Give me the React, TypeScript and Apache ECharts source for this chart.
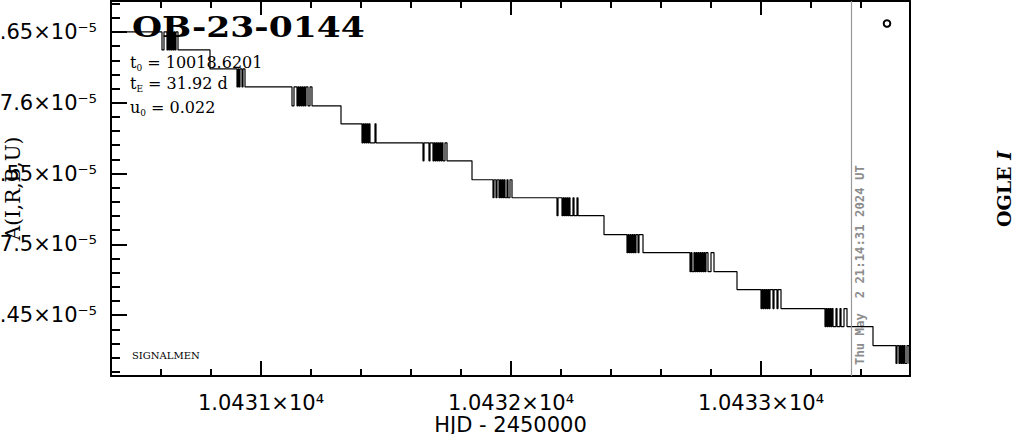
import React, { useEffect, useRef } from "react";
import * as echarts from "echarts";

// Quantised model levels A, top to bottom
const levels = [
  1.65e-5, 1.63731e-5, 1.62391e-5, 1.61121e-5, 1.59781e-5, 1.58512e-5,
  1.57172e-5, 1.55903e-5, 1.54563e-5, 1.53293e-5, 1.52024e-5, 1.50684e-5,
  1.49415e-5, 1.48075e-5, 1.46805e-5, 1.45465e-5, 1.44196e-5, 1.42856e-5,
  1.41587e-5,
];

// Switching times (HJD-2450000) between level i and level i+1
const transitions: number[][] = [
  [10430.604, 10430.612, 10430.624, 10430.628, 10430.632, 10430.636, 10430.64, 10430.644, 10430.648, 10430.652, 10430.656, 10430.66, 10430.668],
  [10430.796],
  [10430.904, 10430.908, 10430.912, 10430.916, 10430.924, 10430.928, 10430.936],
  [10431.124, 10431.132, 10431.144, 10431.148, 10431.152, 10431.156, 10431.16, 10431.164, 10431.168, 10431.172, 10431.176, 10431.18, 10431.188, 10431.196, 10431.204],
  [10431.32],
  [10431.404, 10431.408, 10431.412, 10431.416, 10431.42, 10431.424, 10431.428, 10431.432, 10431.436, 10431.456, 10431.46],
  [10431.648, 10431.652, 10431.672, 10431.676, 10431.688, 10431.692, 10431.696, 10431.7, 10431.704, 10431.708, 10431.712, 10431.716, 10431.72, 10431.724, 10431.728, 10431.736, 10431.744],
  [10431.844],
  [10431.928, 10431.932, 10431.94, 10431.944, 10431.952, 10431.956, 10431.96, 10431.964, 10431.968, 10431.972, 10431.976, 10431.984, 10431.988, 10431.996, 10432.004],
  [10432.184, 10432.188, 10432.204, 10432.208, 10432.212, 10432.216, 10432.22, 10432.224, 10432.228, 10432.232, 10432.236, 10432.248, 10432.252, 10432.264, 10432.268],
  [10432.372],
  [10432.464, 10432.468, 10432.472, 10432.476, 10432.48, 10432.484, 10432.488, 10432.492, 10432.496, 10432.5, 10432.508, 10432.512, 10432.528],
  [10432.716, 10432.72, 10432.724, 10432.732, 10432.736, 10432.74, 10432.744, 10432.748, 10432.752, 10432.756, 10432.76, 10432.764, 10432.768, 10432.772, 10432.776, 10432.78, 10432.788, 10432.8, 10432.812],
  [10432.904],
  [10433.0, 10433.004, 10433.008, 10433.012, 10433.016, 10433.02, 10433.024, 10433.028, 10433.032, 10433.036, 10433.048, 10433.052, 10433.064, 10433.068, 10433.08],
  [10433.256, 10433.26, 10433.264, 10433.268, 10433.272, 10433.276, 10433.28, 10433.284, 10433.288, 10433.3, 10433.304, 10433.316, 10433.32, 10433.332, 10433.344],
  [10433.448],
  [10433.54, 10433.544, 10433.552, 10433.556, 10433.56, 10433.564, 10433.568, 10433.572, 10433.576, 10433.584, 10433.592],
];

const xRange = [10430.4, 10433.596];
const yRange = [1.40705e-5, 1.67186e-5];
const nowT = 10433.36;

const xMajorTicks = [10431, 10432, 10433];
const xMajorLabels = ["1.0431×10⁴", "1.0432×10⁴", "1.0433×10⁴"];
const xMinorTicks = [
  10430.6, 10430.8, 10431.2, 10431.4, 10431.6, 10431.8, 10432.2, 10432.4,
  10432.6, 10432.8, 10433.2, 10433.4,
];
const yMajorTicks = [1.45e-5, 1.5e-5, 1.55e-5, 1.6e-5, 1.65e-5];
const yMajorLabels = ["1.45×10⁻⁵", "7.5×10⁻⁵", "1.55×10⁻⁵", "7.6×10⁻⁵", "1.65×10⁻⁵"];
const yMinorTicks = [
  1.41e-5, 1.42e-5, 1.43e-5, 1.44e-5, 1.46e-5, 1.47e-5, 1.48e-5, 1.49e-5,
  1.51e-5, 1.52e-5, 1.53e-5, 1.54e-5, 1.56e-5, 1.57e-5, 1.58e-5, 1.59e-5,
  1.61e-5, 1.62e-5, 1.63e-5, 1.64e-5, 1.66e-5, 1.67e-5,
];

const title = "OB-23-0144";
const params = [
  { sym: "t", sub: "0", rest: " = 10018.6201" },
  { sym: "t", sub: "E", rest: " = 31.92 d" },
  { sym: "u", sub: "0", rest: " = 0.022" },
];
const dateText = "Thu May  2 21:14:31 2024 UT";

function lookup(v: number, ticks: number[], labels: string[]) {
  for (let i = 0; i < ticks.length; i++) {
    if (Math.abs(ticks[i] - v) < Math.abs(ticks[i]) * 1e-6 + 1e-12) return labels[i];
  }
  return "";
}

export default function App() {
  const ref = useRef<HTMLDivElement>(null);
  useEffect(() => {
    if (!ref.current) return;
    const chart = echarts.init(ref.current, undefined, { renderer: "svg" });

    const curve: [number, number][] = [[xRange[0], levels[0]]];
    transitions.forEach((times, i) => {
      times.forEach((t, j) => {
        curve.push([t, j % 2 === 0 ? levels[i + 1] : levels[i]]);
      });
    });
    curve.push([xRange[1], levels[levels.length - 1]]);

    const black = "#000";
    const frame = { color: black, width: 2 };
    const tickStyle = { color: black, width: 2 };
    const sansLabel = { color: black, fontFamily: "DejaVu Sans", fontSize: 21 };

    const baseX = { type: "value", min: xRange[0], max: xRange[1], splitLine: { show: false } };
    const baseY = { type: "value", min: yRange[0], max: yRange[1], splitLine: { show: false } };

    const option: any = {
      animation: false,
      backgroundColor: "#fff",
      grid: { left: 111, right: 104, top: 1, bottom: 58, containLabel: false, outerBoundsMode: "none" },
      xAxis: [
        {
          ...baseX,
          position: "bottom",
          axisLine: { show: true, onZero: false, lineStyle: frame },
          axisTick: { show: true, inside: true, length: 15, lineStyle: tickStyle, customValues: xMajorTicks },
          axisLabel: {
            show: true,
            customValues: xMajorTicks,
            margin: 16,
            ...sansLabel,
            formatter: (v: number) => lookup(v, xMajorTicks, xMajorLabels),
          },
          name: "HJD - 2450000",
          nameLocation: "middle",
          nameGap: 38,
          nameMoveOverlap: false,
          nameTextStyle: { ...sansLabel },
        },
        {
          ...baseX,
          position: "bottom",
          axisLine: { show: false, onZero: false },
          axisTick: { show: true, inside: true, length: 7, lineStyle: tickStyle, customValues: xMinorTicks },
          axisLabel: { show: false },
        },
        {
          ...baseX,
          position: "top",
          axisLine: { show: true, onZero: false, lineStyle: frame },
          axisTick: { show: true, inside: true, length: 14, lineStyle: tickStyle, customValues: xMajorTicks },
          axisLabel: { show: false },
        },
        {
          ...baseX,
          position: "top",
          axisLine: { show: false, onZero: false },
          axisTick: { show: true, inside: true, length: 7, lineStyle: tickStyle, customValues: xMinorTicks },
          axisLabel: { show: false },
        },
      ],
      yAxis: [
        {
          ...baseY,
          position: "left",
          axisLine: { show: true, onZero: false, lineStyle: frame },
          axisTick: { show: true, inside: true, length: 16, lineStyle: tickStyle, customValues: yMajorTicks },
          axisLabel: {
            show: true,
            customValues: yMajorTicks,
            margin: 14,
            ...sansLabel,
            formatter: (v: number) => lookup(v, yMajorTicks, yMajorLabels),
          },
          name: "A(I,R,B,U)",
          nameLocation: "middle",
          nameRotate: 90,
          nameGap: 88,
          nameMoveOverlap: false,
          nameTextStyle: { color: black, fontFamily: "DejaVu Serif", fontSize: 20 },
        },
        {
          ...baseY,
          position: "left",
          axisLine: { show: false, onZero: false },
          axisTick: { show: true, inside: true, length: 9, lineStyle: tickStyle, customValues: yMinorTicks },
          axisLabel: { show: false },
        },
        {
          ...baseY,
          position: "right",
          axisLine: { show: true, onZero: false, lineStyle: frame },
          axisTick: { show: false },
          axisLabel: { show: false },
        },
      ],
      series: [
        {
          type: "line",
          step: "end",
          xAxisIndex: 0,
          yAxisIndex: 0,
          symbol: "none",
          clip: true,
          lineStyle: { color: black, width: 1.2 },
          data: curve,
          markLine: {
            silent: true,
            symbol: "none",
            label: { show: false },
            lineStyle: { color: "#999", type: "solid", width: 1.2 },
            data: [{ xAxis: nowT }],
          },
        },
      ],
      graphic: [
        {
          type: "text",
          x: 132,
          y: 27.5,
          scaleX: 1.28,
          style: {
            text: title,
            fill: black,
            font: 'bold 27px "DejaVu Serif"',
            textAlign: "left",
            textVerticalAlign: "middle",
          },
        },
        ...params.map((p, i) => ({
          type: "text",
          x: 130,
          y: [62, 83, 107][i],
          style: {
            text: `{a|${p.sym}}{s|${p.sub}}{a|${p.rest}}`,
            fill: black,
            textAlign: "left",
            textVerticalAlign: "middle",
            rich: {
              a: { fontFamily: "DejaVu Serif", fontSize: 16, lineHeight: 20, fill: black },
              s: { fontFamily: "DejaVu Serif", fontSize: 9, lineHeight: 6, verticalAlign: "bottom", fill: black },
            },
          },
        })),
        {
          type: "text",
          x: 132,
          y: 355,
          style: {
            text: "SIGNALMEN",
            fill: black,
            font: '10px "DejaVu Serif"',
            textAlign: "left",
            textVerticalAlign: "middle",
          },
        },
        {
          type: "text",
          x: 866,
          y: 365,
          rotation: Math.PI / 2,
          style: {
            text: dateText,
            fill: "#8c8c8c",
            font: 'bold 12.3px "DejaVu Sans Mono"',
            textAlign: "left",
            textVerticalAlign: "bottom",
          },
        },
        {
          type: "text",
          x: 1004,
          y: 189,
          rotation: Math.PI / 2,
          style: {
            text: "{b|OGLE }{i|I}",
            fill: black,
            textAlign: "center",
            textVerticalAlign: "middle",
            rich: {
              b: { fontFamily: "DejaVu Serif", fontWeight: "bold", fontSize: 19, fill: black },
              i: { fontFamily: "DejaVu Serif", fontWeight: "bold", fontStyle: "italic", fontSize: 19, fill: black },
            },
          },
        },
        {
          type: "circle",
          shape: { cx: 887, cy: 23.5, r: 3.3 },
          style: { fill: "none", stroke: black, lineWidth: 2 },
        },
      ],
    };
    chart.setOption(option);
    return () => chart.dispose();
  }, []);
  return (
    <div
      ref={ref}
      style={{ position: "fixed", left: 0, top: 0, width: 1014, height: 434, background: "#fff" }}
    />
  );
}
